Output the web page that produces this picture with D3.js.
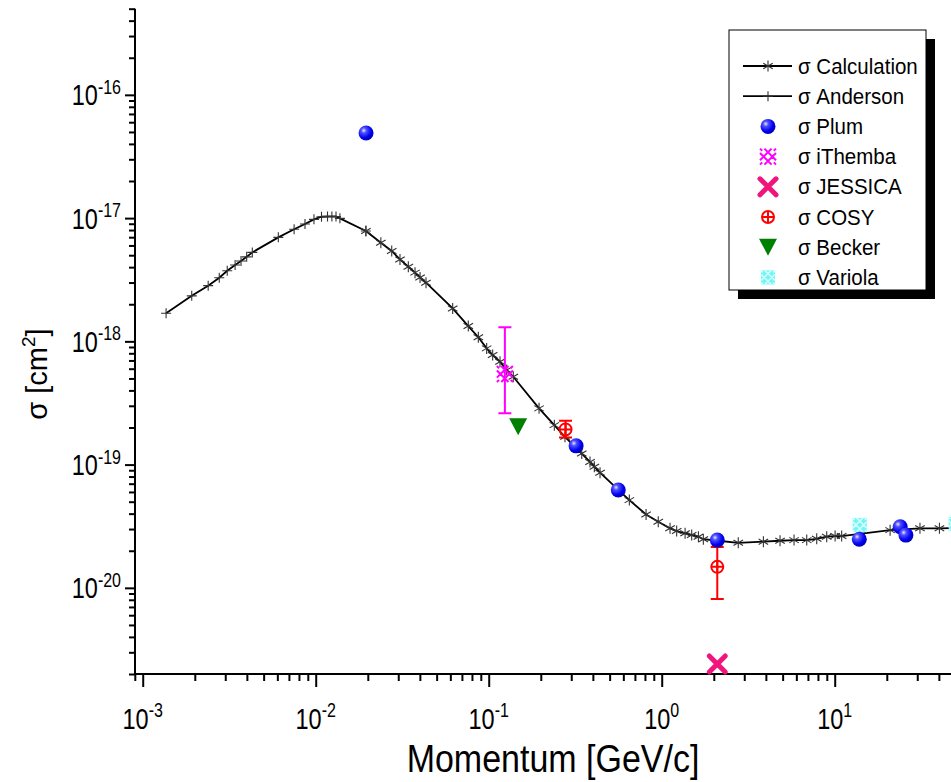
<!DOCTYPE html>
<html><head><meta charset="utf-8">
<script src="https://cdn.jsdelivr.net/npm/d3@7"></script>
<style>body{margin:0;background:#fff}svg{display:block}</style>
</head><body><svg id="c" width="951" height="782"></svg>
<script>
// ---------- data (momentum GeV/c, cross-section cm^2) ----------
const andersonP = [0.001365,0.00192,0.00239,0.00277,0.00308,0.00342,0.00370,0.00399,0.00430,0.00608,0.00750,0.00867,0.00977,0.0108,0.0117,0.0124,0.0131,0.0138,0.0195];
const andersonS = [1.69e-18,2.34e-18,2.83e-18,3.28e-18,3.74e-18,4.16e-18,4.49e-18,4.85e-18,5.27e-18,6.98e-18,8.11e-18,8.95e-18,9.77e-18,1.026e-17,1.03e-17,1.03e-17,1.03e-17,9.95e-18,7.85e-18];
const calcP = [0.0195,0.0238,0.0275,0.0307,0.0343,0.0375,0.0401,0.0434,0.0619,0.0762,0.0871,0.0973,0.1054,0.1162,0.127,0.1387,0.1954,0.2395,0.276,0.345,0.385,0.408,0.440,0.650,0.812,0.955,1.117,1.22,1.365,1.49,1.63,1.74,2.12,2.77,3.87,4.83,5.82,6.89,7.87,8.99,10.05,10.97,20.9,31.1,40.3,60];
const calcS = [7.85e-18,6.31e-18,5.41e-18,4.62e-18,4.03e-18,3.61e-18,3.30e-18,2.99e-18,1.85e-18,1.33e-18,1.08e-18,8.77e-19,7.75e-19,6.84e-19,5.85e-19,5.16e-19,2.86e-19,2.09e-19,1.68e-19,1.23e-19,1.05e-19,9.62e-20,8.59e-20,5.15e-20,3.94e-20,3.44e-20,3.04e-20,2.89e-20,2.77e-20,2.68e-20,2.60e-20,2.48e-20,2.41e-20,2.32e-20,2.37e-20,2.41e-20,2.44e-20,2.44e-20,2.50e-20,2.60e-20,2.63e-20,2.63e-20,2.94e-20,3.04e-20,3.04e-20,3.07e-20];
const plumP = [0.01954,0.320,0.561,2.095,13.87,23.9,25.8];
const plumS = [4.90e-17,1.42e-19,6.23e-20,2.44e-20,2.48e-20,3.13e-20,2.68e-20];
const ithembaP = [0.124];
const ithembaS = [5.43e-19];
const ithembaLo = [2.61e-19];
const ithembaHi = [1.30e-18];
const jessicaP = [2.095];
const jessicaS = [2.41e-21];
const cosyP = [0.278,2.095];
const cosyS = [1.93e-19,1.48e-20];
const cosyLo = [1.66e-19,8.11e-21];
const cosyHi = [2.27e-19,2.15e-20];
const beckerP = [0.148];
const beckerS = [2.03e-19];
const variolaP = [13.96,50];
const variolaS = [3.24e-20,3.30e-20];
const legendNames = ["Calculation","Anderson","Plum","iThemba","JESSICA","COSY","Becker","Variola"];
const xTickExps = [-3,-2,-1,0,1];
const yTickExps = [-20,-19,-18,-17,-16];
const xTitle = "Momentum [GeV/c]";

// ---------- layout ----------
const FONT = "'Liberation Sans', Arial, sans-serif";
const svg = d3.select("#c");
const x = d3.scaleLog().domain([9e-4, 100]).range([134.8, 134.8 + Math.log10(100/9e-4)*173]);
const y = d3.scaleLog().domain([2e-21, 5e-16]).range([674, 674 - Math.log10(5e-16/2e-21)*123.25]);
const X0 = 135, Y0 = 674;

const defs = svg.append("defs");
const g = defs.append("radialGradient").attr("id","ball").attr("cx","0.35").attr("cy","0.33").attr("r","0.7");
g.append("stop").attr("offset","0").attr("stop-color","#e8e8ff");
g.append("stop").attr("offset","0.25").attr("stop-color","#5050ff");
g.append("stop").attr("offset","0.7").attr("stop-color","#0000f0");
g.append("stop").attr("offset","1").attr("stop-color","#0000b8");

// ---------- axes ----------
function minorVals(dom){
  const out=[]; const lo=Math.floor(Math.log10(dom[0])), hi=Math.ceil(Math.log10(dom[1]));
  for(let k=lo;k<=hi;k++) for(let m=2;m<=9;m++){const v=m*Math.pow(10,k); if(v>=dom[0]*0.999 && v<=dom[1]*1.001) out.push(v);}
  return out;
}
const xMajor = xTickExps.map(e=>Math.pow(10,e));
const yMajor = yTickExps.map(e=>Math.pow(10,e));

function styleAxis(sel){
  sel.select(".domain").remove();
  sel.selectAll("line").attr("stroke","#000").attr("stroke-width",2);
  sel.selectAll("text").remove();
}
svg.append("g").attr("transform",`translate(0,${Y0})`)
  .call(d3.axisBottom(x).tickValues(minorVals(x.domain())).tickSize(7)).call(styleAxis);
svg.append("g").attr("transform",`translate(0,${Y0})`)
  .call(d3.axisBottom(x).tickValues(xMajor).tickSize(13)).call(styleAxis);
svg.append("g").attr("transform",`translate(${X0},0)`)
  .call(d3.axisLeft(y).tickValues(minorVals(y.domain())).tickSize(6)).call(styleAxis);
svg.append("g").attr("transform",`translate(${X0},0)`)
  .call(d3.axisLeft(y).tickValues(yMajor).tickSize(10)).call(styleAxis);
svg.append("line").attr("x1",X0).attr("x2",951).attr("y1",Y0).attr("y2",Y0).attr("stroke","#000").attr("stroke-width",2);
svg.append("line").attr("x1",X0).attr("x2",X0).attr("y1",Y0+1).attr("y2",y(5e-16)).attr("stroke","#000").attr("stroke-width",2);

// tick labels (text is drawn vertically stretched, like the reference)
const TS = 1.28;
xTickExps.forEach((e,i)=>{
  const t = svg.append("text").attr("transform",`translate(${x(xMajor[i])},729) scale(1,${TS})`).attr("text-anchor","middle")
    .attr("font-family",FONT).attr("font-size",23.5).attr("fill","#000");
  t.append("tspan").text("10");
  t.append("tspan").attr("dy",-9).attr("font-size",16).text(String(e));
});
yTickExps.forEach((e,i)=>{
  const t = svg.append("text").attr("transform",`translate(121,${y(yMajor[i])+10.5}) scale(1,${TS})`).attr("text-anchor","end")
    .attr("font-family",FONT).attr("font-size",23.5).attr("fill","#000");
  t.append("tspan").text("10");
  t.append("tspan").attr("dy",-9).attr("font-size",16).text(String(e));
});
// axis titles
svg.append("text").attr("transform","translate(553,772) scale(1,1.12)").attr("text-anchor","middle")
  .attr("font-family",FONT).attr("font-size",34).text(xTitle);
const yt = svg.append("text").attr("transform","translate(47,374) rotate(-90)").attr("text-anchor","middle")
  .attr("font-family",FONT).attr("font-size",29);
yt.append("tspan").text("σ [cm");
yt.append("tspan").attr("dy",-12).attr("font-size",19).text("2");
yt.append("tspan").attr("dy",12).text("]");

// ---------- marker helpers ----------
function asterisk(sel, r){ // 6-arm star
  const a=r*Math.cos(Math.PI/6), b=r*Math.sin(Math.PI/6);
  sel.append("path").attr("d",`M0,${-r}V${r}M${-a},${-b}L${a},${b}M${-a},${b}L${a},${-b}`)
    .attr("stroke","#333").attr("stroke-width",1.1).attr("fill","none");
}
function plus(sel, r){
  sel.append("path").attr("d",`M0,${-r}V${r}M${-r},0H${r}`).attr("stroke","#333").attr("stroke-width",1.1).attr("fill","none");
}
function ball(sel){ sel.append("circle").attr("r",7.5).attr("fill","url(#ball)"); }
function lattice(sel, color, w, fill, h){
  const c=h*0.55;
  if(fill) sel.append("rect").attr("x",-h).attr("y",-h).attr("width",2*h).attr("height",2*h).attr("fill",fill);
  const d = `M${-h+c},${-h}L${h},${h-c}M${-h},${-h+c}L${h-c},${h}` +
            `M${-h+c},${h}L${h},${-h+c}M${-h},${h-c}L${h-c},${-h}` +
            `M${-h},${-h}L${-h+c/2},${-h+c/2}M${h},${h}L${h-c/2},${h-c/2}M${-h},${h}L${-h+c/2},${h-c/2}M${h},${-h}L${h-c/2},${-h+c/2}`;
  sel.append("path").attr("d",d).attr("stroke",color).attr("stroke-width",w).attr("fill","none");
}
function bigX(sel){
  sel.append("path").attr("d","M-8,-8L8,8M-8,8L8,-8").attr("stroke","#f0147c").attr("stroke-width",5).attr("stroke-linecap","round");
}
function cosy(sel){
  sel.append("circle").attr("r",6).attr("fill","none").attr("stroke","#ff0000").attr("stroke-width",2);
  sel.append("path").attr("d","M0,-6V6M-6,0H6").attr("stroke","#ff0000").attr("stroke-width",2);
}
function tri(sel){
  sel.append("path").attr("d","M-9,-8.5H9L0,8.5Z").attr("fill","#008000");
}
function errBar(px, lo, hi, color){
  const xx=x(px), c=6.5;
  svg.append("path").attr("d",`M${xx},${y(hi)}V${y(lo)}M${xx-c},${y(hi)}H${xx+c}M${xx-c},${y(lo)}H${xx+c}`)
    .attr("stroke",color).attr("stroke-width",2).attr("fill","none");
}

// ---------- lines ----------
const line = d3.line().x(d=>x(d[0])).y(d=>y(d[1]));
const andData = andersonP.map((p,i)=>[p,andersonS[i]]);
const calcData = calcP.map((p,i)=>[p,calcS[i]]);
svg.append("path").attr("d",line(andData)).attr("fill","none").attr("stroke","#000").attr("stroke-width",1.8);
svg.append("path").attr("d",line(calcData)).attr("fill","none").attr("stroke","#000").attr("stroke-width",1.8);
andData.forEach(d=>plus(svg.append("g").attr("transform",`translate(${x(d[0])},${y(d[1])})`),5));
calcData.forEach(d=>asterisk(svg.append("g").attr("transform",`translate(${x(d[0])},${y(d[1])})`),5.5));

// ---------- experimental points ----------
errBar(ithembaP[0], ithembaLo[0], ithembaHi[0], "#ff00ff");
cosyP.forEach((p,i)=>errBar(p, cosyLo[i], cosyHi[i], "#ff0000"));
ithembaP.forEach((p,i)=>lattice(svg.append("g").attr("transform",`translate(${x(p)},${y(ithembaS[i])})`),"#ff00ff",2,null,8));
beckerP.forEach((p,i)=>tri(svg.append("g").attr("transform",`translate(${x(p)},${y(beckerS[i])})`)));
cosyP.forEach((p,i)=>cosy(svg.append("g").attr("transform",`translate(${x(p)},${y(cosyS[i])})`)));
variolaP.forEach((p,i)=>lattice(svg.append("g").attr("transform",`translate(${x(p)},${y(variolaS[i])})`),"#d0ffff",1.6,"#70f4f4",7));
plumP.forEach((p,i)=>ball(svg.append("g").attr("transform",`translate(${x(p)},${y(plumS[i])})`)));
jessicaP.forEach((p,i)=>bigX(svg.append("g").attr("transform",`translate(${x(p)},${y(jessicaS[i])})`)));

// ---------- legend ----------
const LX=729, LY=30, LW=197, LH=260;
svg.append("rect").attr("x",LX+9).attr("y",LY+9).attr("width",LW).attr("height",LH).attr("fill","#000");
svg.append("rect").attr("x",LX).attr("y",LY).attr("width",LW).attr("height",LH).attr("fill","#fff").attr("stroke","#000").attr("stroke-width",1);
const markers=[
  s=>{s.append("line").attr("x1",-25).attr("x2",24).attr("stroke","#000").attr("stroke-width",1.8);asterisk(s,5.5);},
  s=>{s.append("line").attr("x1",-25).attr("x2",24).attr("stroke","#000").attr("stroke-width",1.8);plus(s,5);},
  s=>ball(s),
  s=>lattice(s,"#ff00ff",2,null,8),
  s=>bigX(s),
  s=>cosy(s),
  s=>tri(s),
  s=>lattice(s,"#d0ffff",1.6,"#70f4f4",7)
];
legendNames.forEach((n,i)=>{
  const cy = 66 + i*30.2;
  markers[i](svg.append("g").attr("transform",`translate(768,${cy})`));
  svg.append("text").attr("transform",`translate(798,${cy+7.5}) scale(1,1.08)`).attr("font-family",FONT).attr("font-size",20.5).text("σ " + n);
});
</script></body></html>
